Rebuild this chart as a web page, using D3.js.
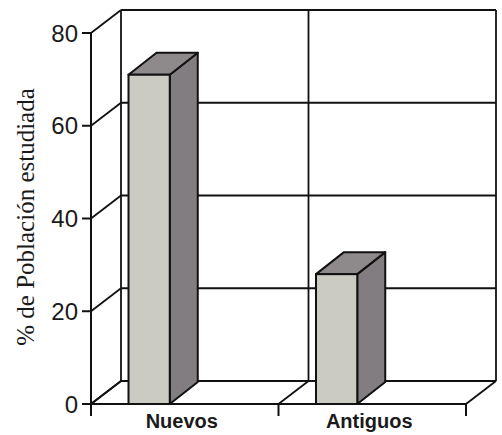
<!DOCTYPE html>
<html>
<head>
<meta charset="utf-8">
<script src="https://cdn.jsdelivr.net/npm/d3@7/dist/d3.min.js"></script>
<style>
  html, body { margin: 0; padding: 0; background: #fff; }
  svg { display: block; }
</style>
</head>
<body>
<script>
// Data
const categories = ["Nuevos", "Antiguos"];
const values = [71, 28];
const yTicks = [0, 20, 40, 60, 80];
const yTitle = "% de Población estudiada";

const W = 502, H = 435;
const svg = d3.select("body").append("svg").attr("width", W).attr("height", H);

// Front plane scales; the back wall is the front plane shifted by depth (dx, dy)
const y = d3.scaleLinear().domain([0, 80]).range([404, 33]);
const x = d3.scaleBand().domain(categories).range([91, 466]).padding(0);
const dx = 30, dy = -23;       // depth of the chart box
const bdx = 28, bdy = -22;     // depth of each bar
const bw = x.bandwidth();

const ink = "#111";
const g = svg.append("g");

// Back wall horizontal gridlines
g.selectAll("line.hgrid").data(yTicks).join("line")
  .attr("x1", 91 + dx).attr("x2", 466 + dx)
  .attr("y1", d => y(d) + dy).attr("y2", d => y(d) + dy)
  .attr("stroke", ink).attr("stroke-width", 1.8);

// Left side wall diagonals
g.selectAll("line.side").data(yTicks).join("line")
  .attr("x1", 91).attr("x2", 91 + dx)
  .attr("y1", d => y(d)).attr("y2", d => y(d) + dy)
  .attr("stroke", ink).attr("stroke-width", 1.8);

// Back wall verticals at category boundaries and floor diagonals
const bounds = [91, x(categories[1]), 466];
g.selectAll("line.vgrid").data(bounds).join("line")
  .attr("x1", d => d + dx).attr("x2", d => d + dx)
  .attr("y1", y(80) + dy).attr("y2", y(0) + dy)
  .attr("stroke", ink).attr("stroke-width", 1.8);
g.selectAll("line.floor").data(bounds).join("line")
  .attr("x1", d => d).attr("x2", d => d + dx)
  .attr("y1", y(0)).attr("y2", y(0) + dy)
  .attr("stroke", ink).attr("stroke-width", 1.8);

// Front baseline and category ticks
g.append("line").attr("x1", 91).attr("x2", 466).attr("y1", y(0)).attr("y2", y(0))
  .attr("stroke", ink).attr("stroke-width", 2);
g.selectAll("line.xtick").data(bounds).join("line")
  .attr("x1", d => d).attr("x2", d => d)
  .attr("y1", y(0)).attr("y2", y(0) + 12)
  .attr("stroke", ink).attr("stroke-width", 2);

// Y axis
g.append("line").attr("x1", 91).attr("x2", 91).attr("y1", y(80)).attr("y2", y(0))
  .attr("stroke", ink).attr("stroke-width", 2);
g.selectAll("line.ytick").data(yTicks).join("line")
  .attr("x1", 82).attr("x2", 91)
  .attr("y1", d => y(d)).attr("y2", d => y(d))
  .attr("stroke", ink).attr("stroke-width", 2);
g.selectAll("text.ylab").data(yTicks).join("text")
  .attr("x", 78).attr("y", d => y(d))
  .attr("text-anchor", "end").attr("dominant-baseline", "central")
  .attr("font-family", "Liberation Sans, Arial, sans-serif")
  .attr("font-size", 24).attr("fill", "#1a1a1a")
  .text(d => d);

// Bars
const bars = g.selectAll("g.bar").data(categories.map((c, i) => ({ c, v: values[i] }))).join("g");
bars.each(function(d) {
  const sel = d3.select(this);
  const x0 = x(d.c) + bw * 0.2, w = bw * 0.22;
  const yt = y(d.v), yb = y(0);
  const pts = a => a.map(p => p.join(",")).join(" ");
  sel.append("polygon")
    .attr("points", pts([[x0 + w, yt], [x0 + w + bdx, yt + bdy], [x0 + w + bdx, yb + bdy], [x0 + w, yb]]))
    .attr("fill", "#827d81").attr("stroke", ink).attr("stroke-width", 2).attr("stroke-linejoin", "round");
  sel.append("polygon")
    .attr("points", pts([[x0, yt], [x0 + w, yt], [x0 + w + bdx, yt + bdy], [x0 + bdx, yt + bdy]]))
    .attr("fill", "#8e8a8c").attr("stroke", ink).attr("stroke-width", 2).attr("stroke-linejoin", "round");
  sel.append("rect")
    .attr("x", x0).attr("y", yt).attr("width", w).attr("height", yb - yt)
    .attr("fill", "#cbcbc3").attr("stroke", ink).attr("stroke-width", 2);
});

// Category labels
g.selectAll("text.xlab").data(categories).join("text")
  .attr("x", d => x(d) + bw / 2 - 3).attr("y", 428)
  .attr("text-anchor", "middle")
  .attr("font-family", "Liberation Sans, Arial, sans-serif")
  .attr("font-weight", "bold").attr("font-size", 20).attr("fill", "#1a1a1a")
  .text(d => d);

// Y axis title
g.append("text")
  .attr("transform", "translate(34,217) rotate(-90)")
  .attr("text-anchor", "middle")
  .attr("font-family", "Liberation Serif, Times New Roman, serif")
  .attr("font-size", 25).attr("fill", "#1a1a1a")
  .text(yTitle);
</script>
</body>
</html>
